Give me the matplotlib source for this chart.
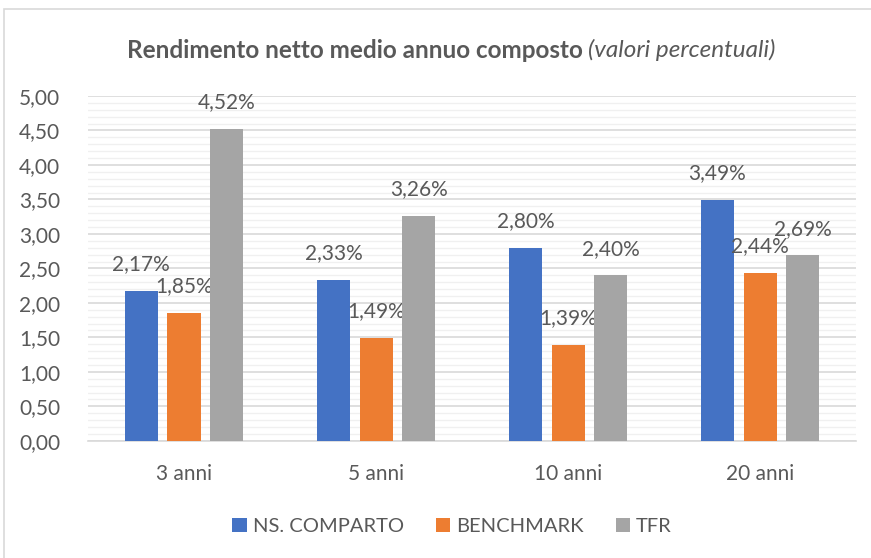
import numpy as np
import matplotlib.pyplot as plt
from matplotlib.patches import Rectangle
from matplotlib.ticker import MultipleLocator, FuncFormatter

plt.rcParams['font.family'] = ['Lato', 'DejaVu Sans']

# dati
categorie = ['3 anni', '5 anni', '10 anni', '20 anni']
serie = ['NS. COMPARTO', 'BENCHMARK', 'TFR']
comparto = [2.17, 2.33, 2.80, 3.49]
benchmark = [1.85, 1.49, 1.39, 2.44]
tfr = [4.52, 3.26, 2.40, 2.69]
colori = ['#4472C4', '#ED7D31', '#A5A5A5']

testo = '#595959'

fig = plt.figure(figsize=(8.71, 5.58), dpi=100)
ax = fig.add_axes([0.101, 0.21, 0.882, 0.618])

x = np.arange(len(categorie))
larg = 0.172
passo = 0.222
for i, (valori, col) in enumerate(zip([comparto, benchmark, tfr], colori)):
    pos = x + (i - 1) * passo
    ax.bar(pos, valori, larg, color=col, label=serie[i], zorder=3)
    for xp, v in zip(pos, valori):
        ax.annotate(('%.2f%%' % v).replace('.', ','), (xp, v), xytext=(0, 12),
                    textcoords='offset points', ha='center', va='bottom',
                    fontsize=15, color=testo)

ax.set_xlim(-0.5, 3.5)
ax.set_ylim(0, 5)
ax.yaxis.set_major_locator(MultipleLocator(0.5))
ax.yaxis.set_minor_locator(MultipleLocator(0.1))
ax.yaxis.set_major_formatter(FuncFormatter(lambda v, p: ('%.2f' % v).replace('.', ',')))
ax.grid(axis='y', which='major', color='#D9D9D9', linewidth=1.2, zorder=0)
ax.grid(axis='y', which='minor', color='#F0F0F0', linewidth=1.0, zorder=0)
ax.set_xticks(x)
ax.set_xticklabels(categorie)
ax.tick_params(axis='both', which='both', length=0, labelsize=15, colors=testo)
ax.tick_params(axis='x', pad=17)
ax.tick_params(axis='y', pad=20)
for s in ['top', 'right', 'left']:
    ax.spines[s].set_visible(False)
ax.spines['bottom'].set_color('#D9D9D9')
ax.spines['bottom'].set_linewidth(1.2)

# titolo in due parti (grassetto + corsivo)
t1 = fig.text(0.5, 0.91, 'Rendimento netto medio annuo composto ', fontsize=17.5,
              fontweight='bold', color=testo, ha='left', va='center')
t2 = fig.text(0.5, 0.91, '(valori percentuali)', fontsize=17.5, fontstyle='italic',
              color=testo, ha='left', va='center')
fig.canvas.draw()
r = fig.canvas.get_renderer()
w1 = t1.get_window_extent(r).width / fig.bbox.width
w2 = t2.get_window_extent(r).width / fig.bbox.width
c = 0.518
t1.set_x(c - (w1 + w2) / 2)
t2.set_x(c - (w1 + w2) / 2 + w1)

ax.legend(loc='upper center', bbox_to_anchor=(0.474, -0.17), ncol=3, frameon=False,
          fontsize=14.5, labelcolor=testo, handlelength=0.7, handleheight=0.7,
          handletextpad=0.3, columnspacing=1.6)

fig.patches.append(Rectangle((0.005, -0.01), 1.0, 0.993, transform=fig.transFigure,
                             fill=False, edgecolor='#D9D9D9', linewidth=1.2))

fig.savefig('out.png', dpi=100, facecolor='white')
